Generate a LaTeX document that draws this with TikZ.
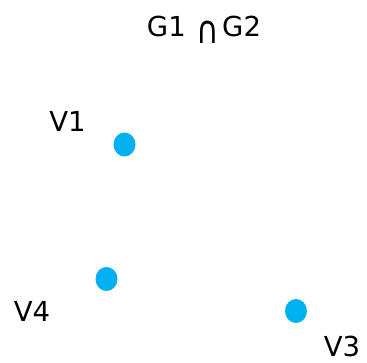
\documentclass[tikz,border=0pt]{standalone}
\usepackage{fontspec}
\setmainfont{DejaVu Sans}
\usetikzlibrary{shapes.geometric}
\definecolor{dot}{HTML}{00B0F0}
\begin{document}
\begin{tikzpicture}[x=1pt,y=-1pt,
  vertex/.style={fill=dot, draw=none, ellipse, minimum width=22pt, minimum height=24pt, inner sep=0pt},
  vlabel/.style={font=\fontsize{27.5}{31}\selectfont, inner sep=0pt, text=black},
  ttl/.style={font=\fontsize{27.5}{31}\selectfont, inner sep=0pt, anchor=base}]
\useasboundingbox (0,0) rectangle (367,363);
\node[ttl] (title) at (204,36.5) {G1 \hspace{2pt}\raisebox{-7pt}{\scalebox{1}[1.25]{\fontsize{31}{31}\selectfont ∩}}\hspace{3pt}G2};
\node[vertex] (v1) at (124.5,144.5) {};
\node[vertex] (v4) at (106.5,279) {};
\node[vertex] (v3) at (296,311) {};
\node[vlabel] (l1) at (67.5,121) {V1};
\node[vlabel] (l4) at (32,311) {V4};
\node[vlabel] (l3) at (342,346) {V3};
\end{tikzpicture}
\end{document}
